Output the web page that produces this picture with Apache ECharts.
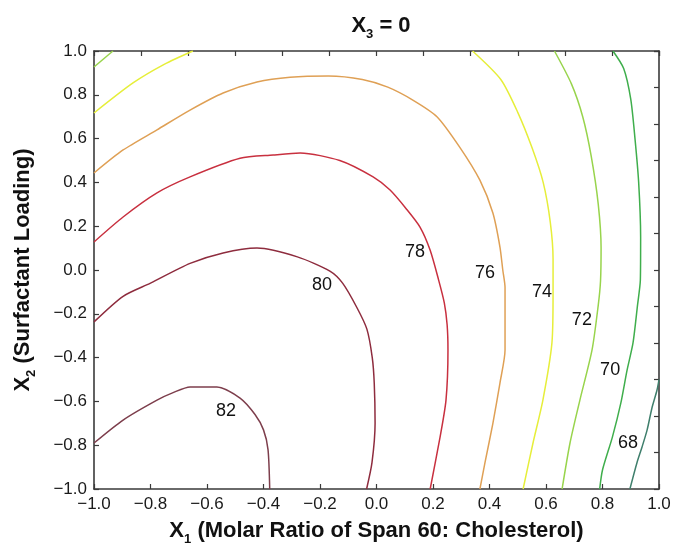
<!DOCTYPE html>
<html>
<head>
<meta charset="utf-8">
<script src="https://cdn.jsdelivr.net/npm/echarts@6/dist/echarts.min.js"></script>
<style>
  html, body { margin: 0; padding: 0; background: #fff; }
  #chart { width: 673px; height: 548px; }
</style>
</head>
<body>
<div id="chart"></div>
<script>
  // contour levels and the colour of each line
  var levels = ['82', '80', '78', '76', '74', '72', '70', '68'];
  var levelColors = ['#7d3e4c', '#8e2c3e', '#c8303f', '#dfa055', '#e6ee3a', '#98d44c', '#3fae4c', '#3f7f6c'];

  // contour lines, [x1, x2]
  var c82 = [[-1, -0.79], [-0.897, -0.685], [-0.777, -0.594], [-0.72, -0.56], [-0.66, -0.534], [-0.565, -0.534],
             [-0.483, -0.585], [-0.43, -0.66], [-0.40, -0.73], [-0.384, -0.82], [-0.378, -1]];
  var c80 = [[-1, -0.237], [-0.897, -0.12], [-0.80, -0.06], [-0.66, 0.03], [-0.543, 0.078], [-0.423, 0.10],
             [-0.28, 0.06], [-0.165, -0.005], [-0.12, -0.06], [-0.07, -0.17], [-0.034, -0.27], [-0.015, -0.40],
             [-0.008, -0.516], [-0.005, -0.70], [-0.016, -0.88], [-0.035, -1]];
  var c78 = [[-1, 0.128], [-0.897, 0.242], [-0.777, 0.352], [-0.66, 0.425], [-0.483, 0.51], [-0.366, 0.525],
             [-0.27, 0.534], [-0.13, 0.50], [-0.012, 0.425], [0.048, 0.365], [0.105, 0.28], [0.154, 0.196],
             [0.19, 0.09], [0.22, -0.046], [0.24, -0.15], [0.25, -0.25], [0.253, -0.365], [0.246, -0.594],
             [0.225, -0.763], [0.19, -1]];
  var c76 = [[-1, 0.443], [-0.897, 0.548], [-0.777, 0.64], [-0.66, 0.73], [-0.543, 0.808], [-0.423, 0.858],
             [-0.306, 0.88], [-0.17, 0.886], [-0.05, 0.87], [0.04, 0.835], [0.13, 0.775], [0.214, 0.70],
             [0.295, 0.56], [0.366, 0.41], [0.412, 0.26], [0.437, 0.105], [0.447, 0], [0.455, -0.08],
             [0.455, -0.365], [0.437, -0.516], [0.412, -0.70], [0.384, -0.88], [0.366, -1]];
  var c74 = [[0.34, 1], [0.44, 0.87], [0.50, 0.72], [0.55, 0.56], [0.59, 0.40], [0.615, 0.22],
             [0.625, 0.05], [0.625, -0.105], [0.621, -0.333], [0.589, -0.594], [0.554, -0.79], [0.519, -1]];
  var c74b = [[-1, 0.717], [-0.862, 0.854], [-0.75, 0.94], [-0.65, 1]];
  var c72 = [[0.63, 1], [0.69, 0.85], [0.73, 0.70], [0.76, 0.52], [0.785, 0.30], [0.795, 0.10],
             [0.793, -0.05], [0.785, -0.16], [0.763, -0.365], [0.72, -0.594], [0.685, -0.79], [0.657, -1]];
  var c72b = [[-1, 0.927], [-0.933, 1]];
  var c70 = [[0.837, 1], [0.875, 0.92], [0.90, 0.78], [0.915, 0.60], [0.928, 0.40], [0.935, 0.15],
             [0.934, -0.046], [0.924, -0.16], [0.908, -0.333], [0.887, -0.457], [0.865, -0.607], [0.835, -0.763],
             [0.80, -0.913], [0.79, -1]];
  var c68 = [[1, -0.50], [0.993, -0.548], [0.975, -0.63], [0.958, -0.73], [0.94, -0.808], [0.922, -0.88], [0.897, -1]];

  // where the level numbers sit
  var labelPos = [[-0.533, -0.644], [-0.193, -0.068], [0.136, 0.082], [0.384, -0.014],
                  [0.586, -0.10], [0.727, -0.228], [0.827, -0.457], [0.89, -0.79]];

  var lines = [
    { level: '82', data: c82 }, { level: '80', data: c80 }, { level: '78', data: c78 },
    { level: '76', data: c76 }, { level: '74', data: c74 }, { level: '74', data: c74b },
    { level: '72', data: c72 }, { level: '72', data: c72b }, { level: '70', data: c70 },
    { level: '68', data: c68 }
  ];

  var fmt = function (v) {
    return (v < -1e-9 ? '\u2212' : '') + Math.abs(v).toFixed(1);
  };

  var font = 'Liberation Sans';
  var chart = echarts.init(document.getElementById('chart'));

  var series = lines.map(function (l) {
    return {
      type: 'line',
      data: l.data,
      showSymbol: false,
      smooth: 0.25,
      animation: false,
      silent: true,
      lineStyle: { width: 1.5, color: levelColors[levels.indexOf(l.level)] }
    };
  });
  series.push({
    type: 'scatter',
    symbolSize: 2,
    itemStyle: { color: 'rgba(0,0,0,0)' },
    animation: false,
    silent: true,
    labelLayout: { hideOverlap: false },
    data: labelPos.map(function (p, i) { return { value: p, name: levels[i] }; }),
    label: {
      show: true, position: 'inside', opacity: 1,
      formatter: '{b}', fontFamily: font, fontSize: 18, color: '#111'
    }
  });

  var axisLine = { onZero: false, lineStyle: { color: '#3a3a3a', width: 1.6 } };
  var inTick = { inside: true, length: 5, lineStyle: { color: '#3a3a3a', width: 1.2 } };
  var nameRich = {
    b: { fontFamily: font, fontWeight: 'bold', fontSize: 22, lineHeight: 30, color: '#111' },
    s: { fontFamily: font, fontWeight: 'bold', fontSize: 13, lineHeight: 13, verticalAlign: 'bottom', color: '#111' }
  };
  var tickLabel = { formatter: fmt, fontFamily: font, fontSize: 17, color: '#1a1a1a', showMinLabel: true, showMaxLabel: true };

  chart.setOption({
    backgroundColor: '#fff',
    title: {
      text: '{b|X}{s|3}{b| = 0}',
      left: 376, top: 6, textAlign: 'center',
      textStyle: { rich: nameRich }
    },
    grid: { left: 94, right: 14, top: 51, bottom: 59, outerBoundsMode: 'none' },
    xAxis: [{
      type: 'value', min: -1, max: 1, interval: 0.2,
      axisLine: axisLine, axisTick: inTick, splitLine: { show: false },
      axisLabel: Object.assign({ margin: 7 }, tickLabel),
      name: '{b|X}{s|1}{b| (Molar Ratio of Span 60: Cholesterol)}',
      nameLocation: 'middle', nameGap: 27,
      nameTextStyle: { rich: nameRich }
    }, {
      type: 'value', position: 'top', min: -1, max: 1, interval: 2 / 12,
      axisLine: axisLine, axisTick: inTick, axisLabel: { show: false }, splitLine: { show: false }
    }],
    yAxis: [{
      type: 'value', min: -1, max: 1, interval: 0.2,
      axisLine: axisLine, axisTick: inTick, splitLine: { show: false },
      axisLabel: Object.assign({ margin: 7 }, tickLabel),
      name: '{b|X}{s|2}{b| (Surfactant Loading)}',
      nameLocation: 'middle', nameGap: 56, nameRotate: 90,
      nameTextStyle: { rich: nameRich }
    }, {
      type: 'value', position: 'right', min: -1, max: 1, interval: 2 / 12,
      axisLine: axisLine, axisTick: inTick, axisLabel: { show: false }, splitLine: { show: false }
    }],
    series: series
  });
</script>
</body>
</html>
